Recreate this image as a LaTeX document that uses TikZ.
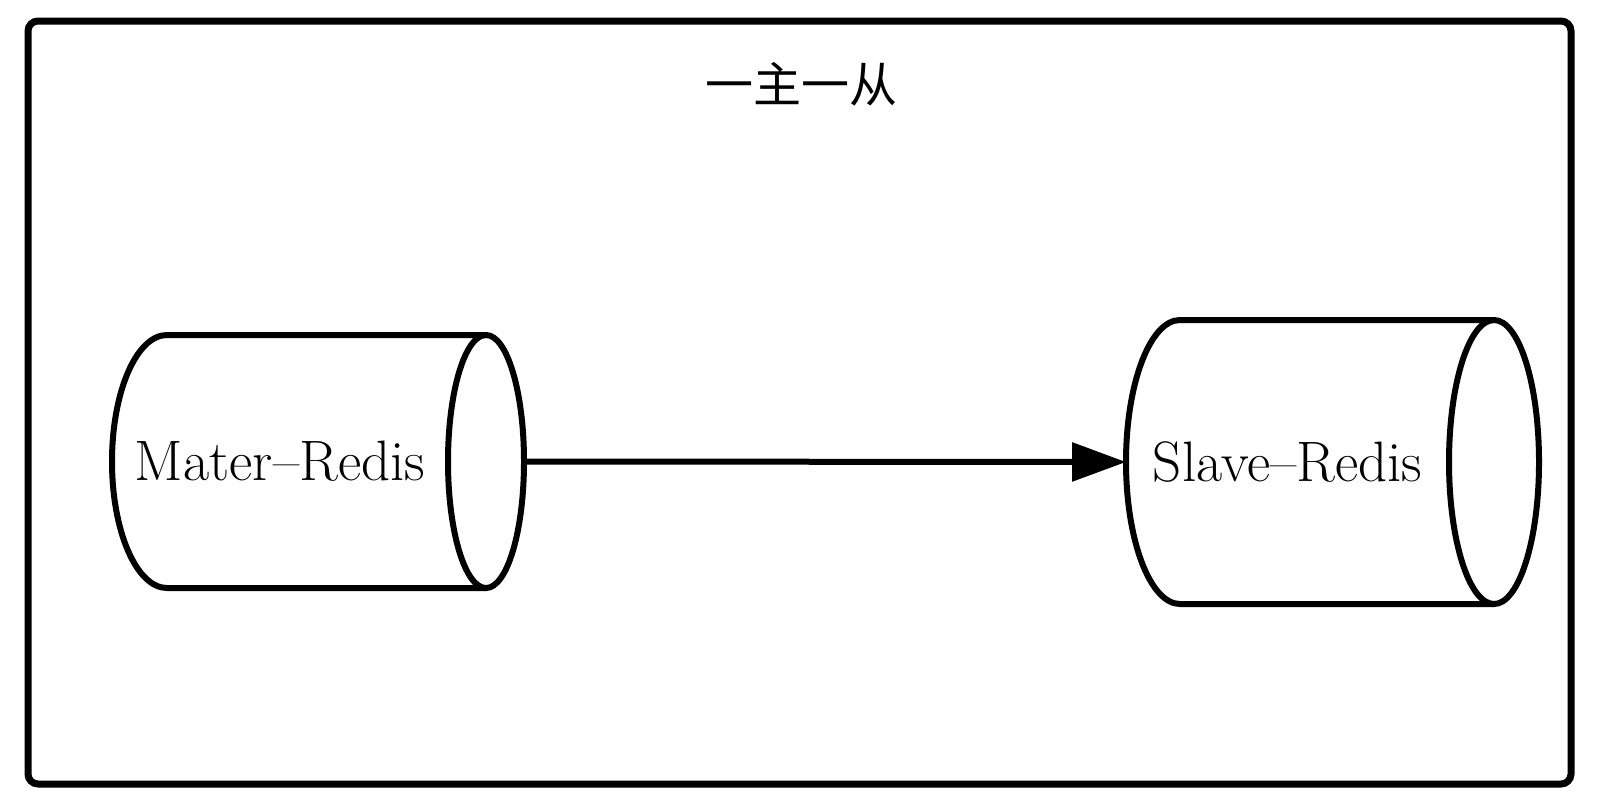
\documentclass[tikz,border=0pt]{standalone}
\usepackage{fontspec}
\newfontfamily\cjk{Noto Sans CJK SC}
\usetikzlibrary{arrows.meta}
\begin{document}
\begin{tikzpicture}
  [x=0.5pt,y=-0.5pt,line width=3pt,
   body/.style={inner sep=0,outer sep=0,font=\fontsize{28.5}{32}\selectfont}]
  \useasboundingbox (0,0) rectangle (1598,804);
  \draw[line width=3.5pt,rounded corners=5pt] (28,21) rectangle (1571,784);
  \node[font=\cjk\fontsize{24}{28}\selectfont] (title) at (801,84) {一主一从};
  \node[body,minimum width=168pt,minimum height=126.5pt] (master) at (280,461.5) {Mater–Redis};
  \node[body,minimum width=161.5pt,minimum height=142pt] (slave) at (1287.5,462) {Slave–Redis};
  \foreach \n/\rl/\rr/\ry in {master/55/38/126.5, slave/54/45/142}{
    \draw ([xshift=\rr*.5pt]\n.north east) -- ([xshift=\rl*.5pt]\n.north west)
      arc[start angle=-90,end angle=-270,x radius=\rl,y radius=\ry]
      -- ([xshift=\rr*.5pt]\n.south east);
    \draw ([xshift=\rr*.5pt]\n.east) ellipse[x radius=\rr,y radius=\ry];
  }
  \draw[-{Triangle[length=27pt,width=19pt]}] ([xshift=38pt]master.east) -- (slave.west);
\end{tikzpicture}
\end{document}
